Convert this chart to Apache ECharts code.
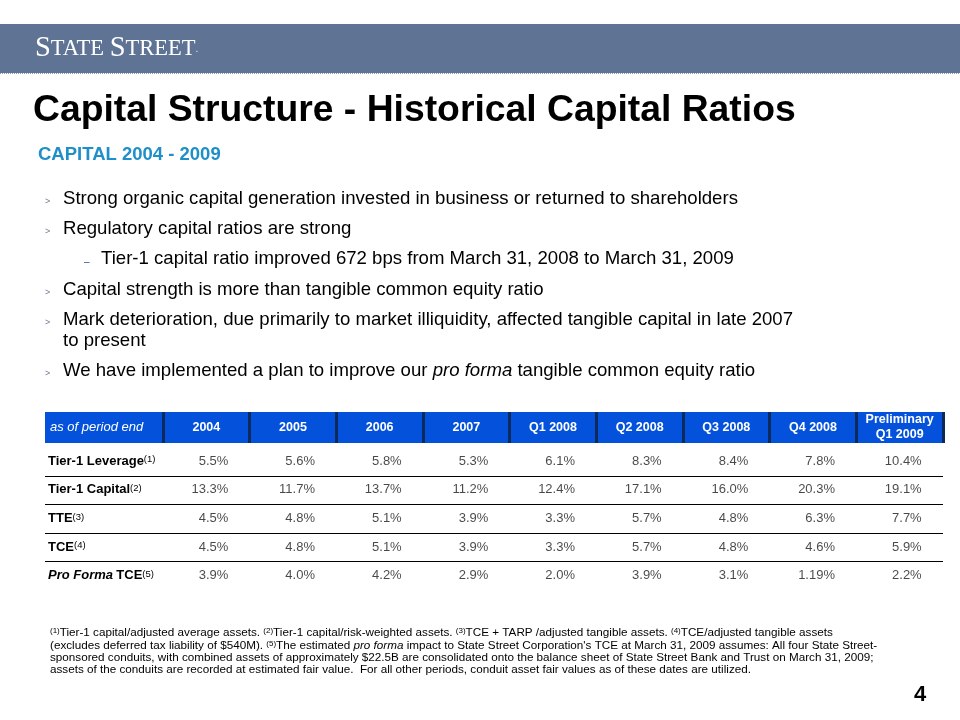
<!DOCTYPE html>
<html><head><meta charset="utf-8">
<script src="https://cdn.jsdelivr.net/npm/echarts@6/dist/echarts.min.js"></script>
<style>html,body{margin:0;padding:0;background:#fff}#c{width:960px;height:720px}</style>
</head><body><div id="c"></div>
<script>
// ---- data ----
var periods = ['2004','2005','2006','2007','Q1 2008','Q2 2008','Q3 2008','Q4 2008','Preliminary\nQ1 2009'];
var metrics = ['Tier-1 Leverage','Tier-1 Capital','TTE','TCE','Pro Forma TCE'];
var metricNotes = ['(1)','(2)','(3)','(4)','(5)'];
var tier1Leverage = [5.5,5.6,5.8,5.3,6.1,8.3,8.4,7.8,10.4];
var tier1Capital  = [13.3,11.7,13.7,11.2,12.4,17.1,16.0,20.3,19.1];
var tte           = [4.5,4.8,5.1,3.9,3.3,5.7,4.8,6.3,7.7];
var tce           = [4.5,4.8,5.1,3.9,3.3,5.7,4.8,4.6,5.9];
var proFormaTce   = [3.9,4.0,4.2,2.9,2.0,3.9,3.1,1.19,2.2];
var rows = [tier1Leverage, tier1Capital, tte, tce, proFormaTce];

var title = 'Capital Structure - Historical Capital Ratios';
var subtitle = 'CAPITAL 2004 - 2009';
var headerCorner = 'as of period end';

// ---- layout / style ----
var FONT = 'Arial, "Liberation Sans", Helvetica, sans-serif';
var GRID_L = 163, GRID_R = 17, GRID_T = 447, GRID_B = 130;
var HEADER_GAP = 4;
var LABEL_COL_W = 118;
var HEADER_TOP = 412;
var HEADER_BOT = GRID_T - HEADER_GAP;

function fmt(v){ return (Math.round(v*10) === v*10 ? v.toFixed(1) : String(v)) + '%'; }

var chart = echarts.init(document.getElementById('c'), null, {renderer:'canvas'});

var series = rows.map(function(vals, r){
  return {
    type:'scatter', symbolSize:0, silent:true,
    data: vals.map(function(v,i){ return [i, r, v]; }),
    label:{show:true, position:'inside', align:'right', verticalAlign:'middle', offset:[22,0],
      fontFamily:FONT, fontSize:13, color:'#1a1a1a',
      formatter:function(p){ return fmt(p.value[2]); }}
  };
});
// row separators
series.push({
  type:'custom', silent:true, clip:false,
  data: metrics.slice(0, metrics.length-1).map(function(m,i){ return [0,i]; }),
  renderItem:function(params, api){
    var c0 = api.coord([0, api.value(1)]);
    var cw = api.size([1,0])[0], ch = api.size([0,1])[1];
    var cl = api.coord([periods.length-1, api.value(1)]);
    var y = Math.round(c0[1] + ch/2) + 0.5;
    return {type:'line', shape:{x1:c0[0]-cw/2-LABEL_COL_W, y1:y, x2:cl[0]+cw/2, y2:y},
      style:{stroke:'#000', lineWidth:1}};
  }
});

var bullets = [
  {y:199, lvl:0, t:'Strong organic capital generation invested in business or returned to shareholders'},
  {y:229, lvl:0, t:'Regulatory capital ratios are strong'},
  {y:259, lvl:1, t:'Tier-1 capital ratio improved 672 bps from March 31, 2008 to March 31, 2009'},
  {y:290, lvl:0, t:'Capital strength is more than tangible common equity ratio'},
  {y:320, lvl:0, t:'Mark deterioration, due primarily to market illiquidity, affected tangible capital in late 2007'},
  {y:341, lvl:-1, t:'to present'},
  {y:371, lvl:0, t:'We have implemented a plan to improve our {i|pro forma} tangible common equity ratio'}
];
var BFS = 18.6;
var graphics = [
  {type:'rect', shape:{x:0,y:24,width:960,height:49}, style:{fill:'#5f7494'}, z:-5},
  {type:'line', shape:{x1:0,y1:73.5,x2:960,y2:73.5}, style:{stroke:'#8a9ab3', lineWidth:1, lineDash:[1,1]}, z:-5},
  {type:'text', x:35, y:49, style:{text:'{b|S}{s|TATE }{b|S}{s|TREET}{r|.}', verticalAlign:'middle', fill:'#fff',
     rich:{b:{fontFamily:'"Liberation Serif","DejaVu Serif",serif', fontSize:28.5, fill:'#fff'},
           s:{fontFamily:'"Liberation Serif","DejaVu Serif",serif', fontSize:22.5, fill:'#fff'},
           r:{fontFamily:'"Liberation Serif",serif', fontSize:11, fill:'#dde'}}}},
  {type:'text', x:33, y:111, style:{text:title, font:'bold 37.3px '+FONT, fill:'#000', verticalAlign:'middle'}},
  {type:'text', x:38, y:155, style:{text:subtitle, font:'bold 18.5px '+FONT, fill:'#1e8fc8', verticalAlign:'middle'}},
  {type:'rect', shape:{x:45,y:HEADER_TOP,width:898,height:HEADER_BOT-HEADER_TOP}, style:{fill:'#0452dc'}, z:-1},
  {type:'text', x:50, y:(HEADER_TOP+HEADER_BOT)/2, style:{text:headerCorner, font:'italic 13px '+FONT, fill:'#fff', verticalAlign:'middle'}},
  {type:'text', x:914, y:695, style:{text:'4', font:'bold 22px '+FONT, fill:'#000', verticalAlign:'middle'}}
];
bullets.forEach(function(b){
  var tx = b.lvl === 1 ? 101 : 63;
  if (b.lvl === 0) graphics.push({type:'text', x:45, y:b.y+3, style:{text:'>', font:'9px '+FONT, fill:'#6a7a9a', verticalAlign:'middle'}});
  if (b.lvl === 1) graphics.push({type:'text', x:84, y:b.y+3, style:{text:'–', font:'10px '+FONT, fill:'#2a4aa0', verticalAlign:'middle'}});
  graphics.push({type:'text', x:tx, y:b.y, style:{text:b.t, fontFamily:FONT, fontSize:BFS, fill:'#000', verticalAlign:'middle',
    rich:{i:{fontFamily:FONT, fontSize:BFS, fontStyle:'italic', fill:'#000'}}}});
});
var FFS = 11.7;
var footRich = {sup:{fontFamily:FONT, fontSize:8, fill:'#000', verticalAlign:'top', lineHeight:10, padding:[0,0,4,0]},
                i:{fontFamily:FONT, fontSize:FFS, fontStyle:'italic', fill:'#000'}};
var footLines = [
  '{sup|(1)}Tier-1 capital/adjusted average assets. {sup|(2)}Tier-1 capital/risk-weighted assets. {sup|(3)}TCE + TARP /adjusted tangible assets. {sup|(4)}TCE/adjusted tangible assets',
  '(excludes deferred tax liability of $540M). {sup|(5)}The estimated {i|pro forma} impact to State Street Corporation\'s TCE at March 31, 2009 assumes: All four State Street-',
  'sponsored conduits, with combined assets of approximately $22.5B are consolidated onto the balance sheet of State Street Bank and Trust on March 31, 2009;',
  'assets of the conduits are recorded at estimated fair value.  For all other periods, conduit asset fair values as of these dates are utilized.'
];
footLines.forEach(function(t, i){
  graphics.push({type:'text', x:50, y:633+i*12.4, style:{text:t, fontFamily:FONT, fontSize:FFS, fill:'#000', verticalAlign:'middle', rich:footRich}});
});

var option = {
  backgroundColor:'#fff',
  animation:false,
  grid:{left:GRID_L, right:GRID_R, top:GRID_T, bottom:GRID_B, containLabel:false},
  xAxis:{type:'category', position:'top', offset:HEADER_GAP, data:periods, boundaryGap:true,
    axisLine:{show:false},
    axisTick:{show:true, length:HEADER_BOT-HEADER_TOP, lineStyle:{color:'#0c2a5c', width:3}},
    splitLine:{show:false},
    axisLabel:{margin:(HEADER_BOT-HEADER_TOP)/2, interval:0, verticalAlign:'middle', color:'#fff', fontFamily:FONT, fontSize:12.5, fontWeight:'bold', lineHeight:15, align:'center'}},
  yAxis:{type:'category', inverse:true, data:metrics, boundaryGap:true,
    axisLine:{show:false}, axisTick:{show:false}, splitLine:{show:false},
    axisLabel:{align:'left', margin:GRID_L-48, interval:0,
      formatter:function(v, i){
        var name = v === 'Pro Forma TCE' ? '{bi|Pro Forma} {b|TCE}' : '{b|'+v+'}';
        return name + '{sup|' + metricNotes[i] + '}';
      },
      rich:{b:{fontFamily:FONT, fontSize:13, fontWeight:'bold', color:'#000'},
            bi:{fontFamily:FONT, fontSize:13, fontWeight:'bold', fontStyle:'italic', color:'#000'},
            sup:{fontFamily:FONT, fontSize:9.5, color:'#000', verticalAlign:'top', lineHeight:10, padding:[0,0,5,0]}}}},
  graphic:{elements:graphics},
  series:series
};
chart.setOption(option);
</script></body></html>
